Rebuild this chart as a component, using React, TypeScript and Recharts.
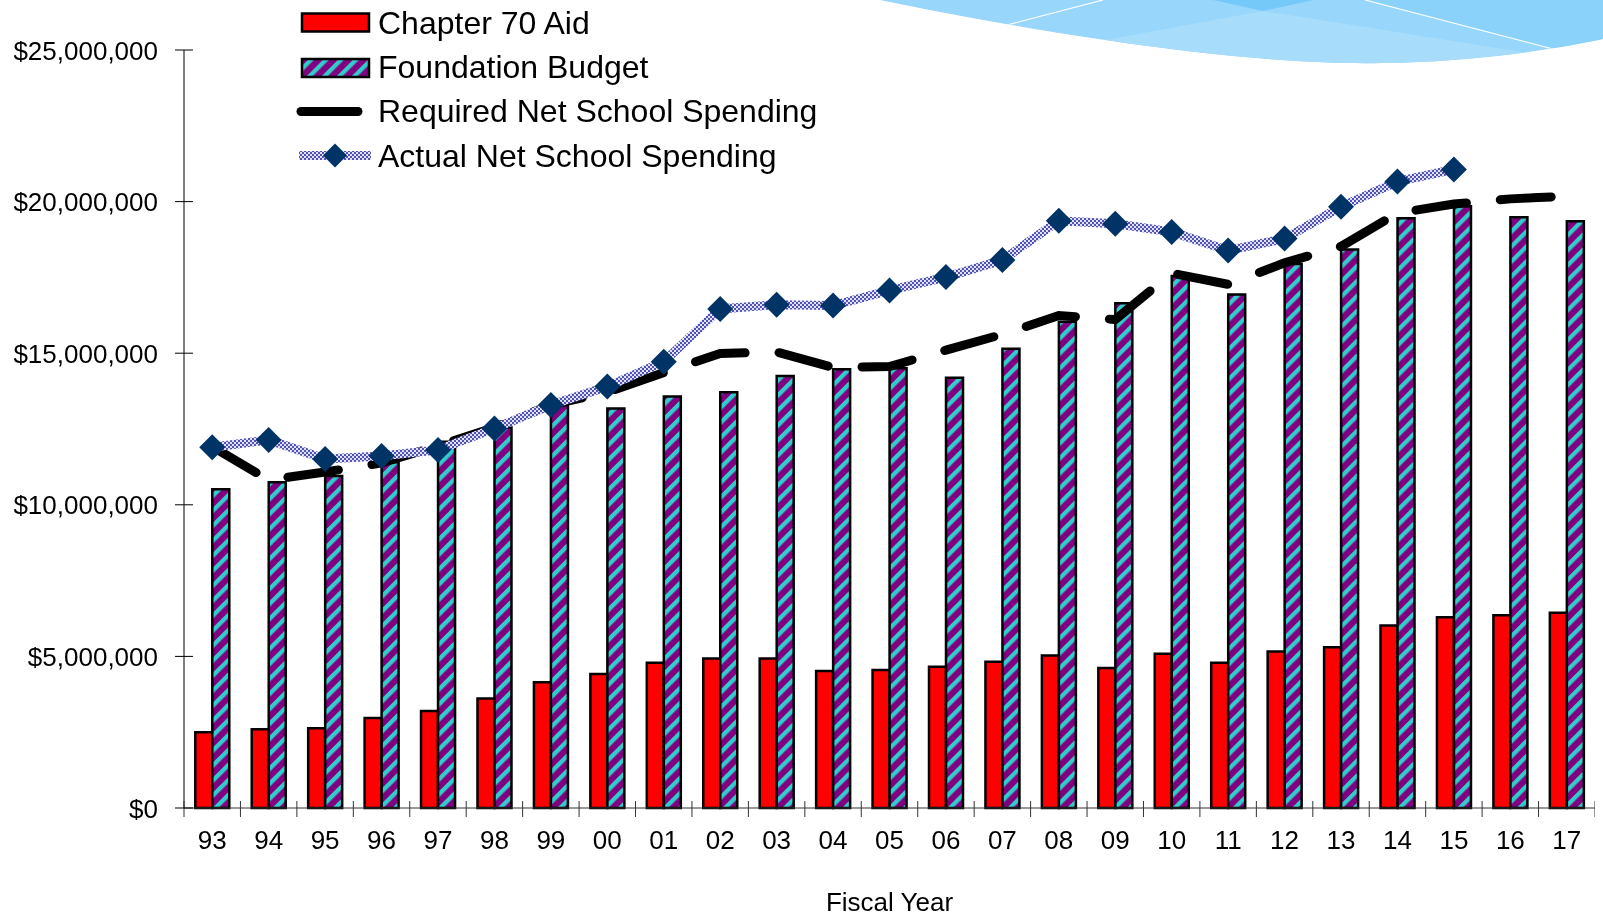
import React from 'react';
import { ComposedChart, Bar, Line, XAxis, YAxis, Legend } from 'recharts';

const years = ['93', '94', '95', '96', '97', '98', '99', '00', '01', '02', '03', '04', '05', '06', '07', '08', '09', '10', '11', '12', '13', '14', '15', '16', '17'];

const chapter70Aid = [2500000, 2600000, 2630000, 2970000, 3200000, 3610000, 4150000, 4420000, 4790000, 4930000, 4930000, 4520000, 4550000, 4660000, 4820000, 5030000, 4620000, 5090000, 4790000, 5160000, 5300000, 6020000, 6290000, 6360000, 6440000];

const foundationBudget = [10510000, 10740000, 10950000, 11400000, 12080000, 12550000, 13290000, 13180000, 13570000, 13710000, 14250000, 14470000, 14500000, 14190000, 15150000, 16040000, 16650000, 17550000, 16940000, 17940000, 18420000, 19450000, 19850000, 19480000, 19350000];

const requiredNetSchoolSpending = [11920000, 10820000, 11080000, 11380000, 11940000, 12550000, 13300000, 13710000, 14360000, 14990000, 15040000, 14530000, 14560000, 15100000, 15620000, 16240000, 16110000, 17640000, 17270000, 17980000, 18520000, 19620000, 19920000, 20090000, 20180000];

const actualNetSchoolSpending: (number | null)[] = [11900000, 12140000, 11510000, 11610000, 11810000, 12520000, 13290000, 13900000, 14720000, 16460000, 16600000, 16570000, 17070000, 17510000, 18070000, 19370000, 19270000, 19000000, 18390000, 18780000, 19830000, 20660000, 21060000, null, null];

const yTicks = [0, 5000000, 10000000, 15000000, 20000000, 25000000];

const legendLabels = ['Chapter 70 Aid', 'Foundation Budget', 'Required Net School Spending', 'Actual Net School Spending'];

const data = years.map((year, i) => ({
  year,
  ch70: chapter70Aid[i],
  fb: foundationBudget[i],
  req: requiredNetSchoolSpending[i],
  act: actualNetSchoolSpending[i],
}));

const FONT = "'Liberation Sans', Arial, Helvetica, sans-serif";
const W = 1595;
const H = 909;
const PLOT_LEFT = 176;
const PLOT_RIGHT = 1587;
const BAND = (PLOT_RIGHT - PLOT_LEFT) / years.length;

const fmtMoney = (v: number) => '$' + String(Math.round(v)).replace(/\B(?=(\d{3})+(?!\d))/g, ',');

const XTick = (props: any) => {
  const { x, y, payload, index } = props;
  const left = x - BAND / 2;
  return (
    <g>
      <line x1={left} x2={left} y1={y - 7} y2={y + 9} stroke="#333" strokeWidth={1} />
      {index === years.length - 1 && (
        <line x1={x + BAND / 2} x2={x + BAND / 2} y1={y - 7} y2={y + 9} stroke="#333" strokeWidth={1} />
      )}
      <text x={x} y={y + 41} textAnchor="middle" fontSize={26} fontFamily={FONT} fill="#000">
        {payload.value}
      </text>
    </g>
  );
};

const YTick = (props: any) => {
  const { x, y, payload } = props;
  return (
    <g>
      <line x1={x - 9} x2={x + 9} y1={y} y2={y} stroke="#000" strokeWidth={1} />
      <text x={x - 26} y={y + 9.5} textAnchor="end" fontSize={26} fontFamily={FONT} fill="#000">
        {fmtMoney(payload.value)}
      </text>
    </g>
  );
};

const Diamond = (props: any) => {
  const { cx, cy, payload, index } = props;
  if (payload == null || payload.act == null || cx == null || cy == null || isNaN(cy)) {
    return <g key={`d-${index}`} />;
  }
  const r = 13;
  return (
    <polygon
      key={`d-${index}`}
      points={`${cx},${cy - r} ${cx + r},${cy} ${cx},${cy + r} ${cx - r},${cy}`}
      fill="#003366"
    />
  );
};

// legend drawn in page coordinates shifted by -8 in x (wrapper is at page x=8, y=0)
const renderLegend = () => {
  const ox = -8;
  const textX = 378 + ox;
  const ts = { fontSize: 32, fontFamily: FONT, fill: '#000' } as const;
  return (
    <svg width={620} height={185} style={{ display: 'block', overflow: 'visible' }}>
      <rect x={302 + ox} y={13.5} width={67} height={18} fill="#ff0000" stroke="#000" strokeWidth={2.5} />
      <text x={textX} y={33.5} {...ts}>{legendLabels[0]}</text>
      <rect x={302 + ox} y={59} width={67} height={18} fill="url(#fbStripe)" stroke="#000" strokeWidth={2.5} />
      <text x={textX} y={78} {...ts}>{legendLabels[1]}</text>
      <line x1={301 + ox} x2={358 + ox} y1={111.5} y2={111.5} stroke="#000" strokeWidth={9} strokeLinecap="round" />
      <text x={textX} y={122} {...ts}>{legendLabels[2]}</text>
      <line x1={299 + ox} x2={371 + ox} y1={155.5} y2={155.5} stroke="url(#mesh)" strokeWidth={9} />
      <polygon
        points={`${335 + ox},${155.5 - 12} ${335 + ox + 12},155.5 ${335 + ox},${155.5 + 12} ${335 + ox - 12},155.5`}
        fill="#003366"
      />
      <text x={textX} y={166.5} {...ts}>{legendLabels[3]}</text>
    </svg>
  );
};

const decoEdge = 'M 880 0 C 1050 35, 1250 66, 1383 63 C 1480 62, 1560 48, 1603 39 L 1603 0 Z';

export default function App() {
  return (
    <div style={{ position: 'relative', width: W, height: H }}>
      <svg
        width={1603}
        height={917}
        style={{ position: 'fixed', left: 0, top: 0, pointerEvents: 'none' }}
      >
        <defs>
          <pattern id="fbStripe" patternUnits="userSpaceOnUse" width={10.6} height={10.6} patternTransform="rotate(45)">
            <rect width={10.6} height={10.6} fill="#800080" />
            <rect width={4.3} height={10.6} fill="#33cccc" />
          </pattern>
          <pattern id="mesh" patternUnits="userSpaceOnUse" width={4} height={4}>
            <rect width={4} height={4} fill="#5252b4" />
            <rect x={0} y={0} width={2} height={2} fill="#e2e2f6" />
            <rect x={2} y={2} width={2} height={2} fill="#e2e2f6" />
          </pattern>
          <clipPath id="decoClip">
            <path d={decoEdge} />
          </clipPath>
        </defs>
        <g clipPath="url(#decoClip)">
          <rect x={860} y={0} width={760} height={80} fill="#98d6fb" />
          <polygon points="1365,0 1620,0 1620,80 1553,49" fill="#8bd2fb" />
          <polygon points="1100,41 1263,11 1560,58 1560,80 1000,80" fill="#a7ddfb" />
          <polygon points="1213,0 1313,0 1263,11" fill="#74c9f8" />
          <line x1={1007} y1={25} x2={1103} y2={0} stroke="#ffffff" strokeWidth={1.2} />
          <line x1={1365} y1={0} x2={1553} y2={49} stroke="#ffffff" strokeWidth={1.2} />
        </g>
      </svg>
      <ComposedChart
        width={W}
        height={H}
        data={data}
        margin={{ top: 42, right: 8, bottom: 0, left: 0 }}
        barCategoryGap="20%"
        barGap={0}
      >
        <XAxis
          dataKey="year"
          height={109}
          interval={0}
          tickSize={0}
          tickMargin={0}
          tickLine={false}
          axisLine={{ stroke: '#333', strokeWidth: 1 }}
          tick={<XTick />}
          label={{ value: 'Fiscal Year', position: 'insideBottom', offset: 6, fontSize: 26, fill: '#000', fontFamily: FONT }}
        />
        <YAxis
          width={176}
          domain={[0, 25000000]}
          ticks={yTicks}
          interval={0}
          tickSize={0}
          tickMargin={0}
          tickLine={false}
          axisLine={{ stroke: '#000', strokeWidth: 1 }}
          tick={<YTick />}
        />
        <Legend
          content={renderLegend}
          layout="horizontal"
          verticalAlign="middle"
          align="center"
          wrapperStyle={{ left: 0, top: -8, width: 620, height: 185 }}
        />
        <Bar dataKey="ch70" fill="#ff0000" stroke="#000" strokeWidth={2.5} isAnimationActive={false} />
        <Bar dataKey="fb" fill="url(#fbStripe)" stroke="#000" strokeWidth={2.5} isAnimationActive={false} />
        <Line
          type="linear"
          dataKey="req"
          stroke="#000"
          strokeWidth={9}
          strokeDasharray="51 34"
          strokeLinecap="round"
          dot={false}
          activeDot={false}
          isAnimationActive={false}
        />
        <Line
          type="linear"
          dataKey="act"
          stroke="url(#mesh)"
          strokeWidth={9}
          dot={<Diamond />}
          activeDot={false}
          connectNulls={false}
          isAnimationActive={false}
        />
      </ComposedChart>
    </div>
  );
}
